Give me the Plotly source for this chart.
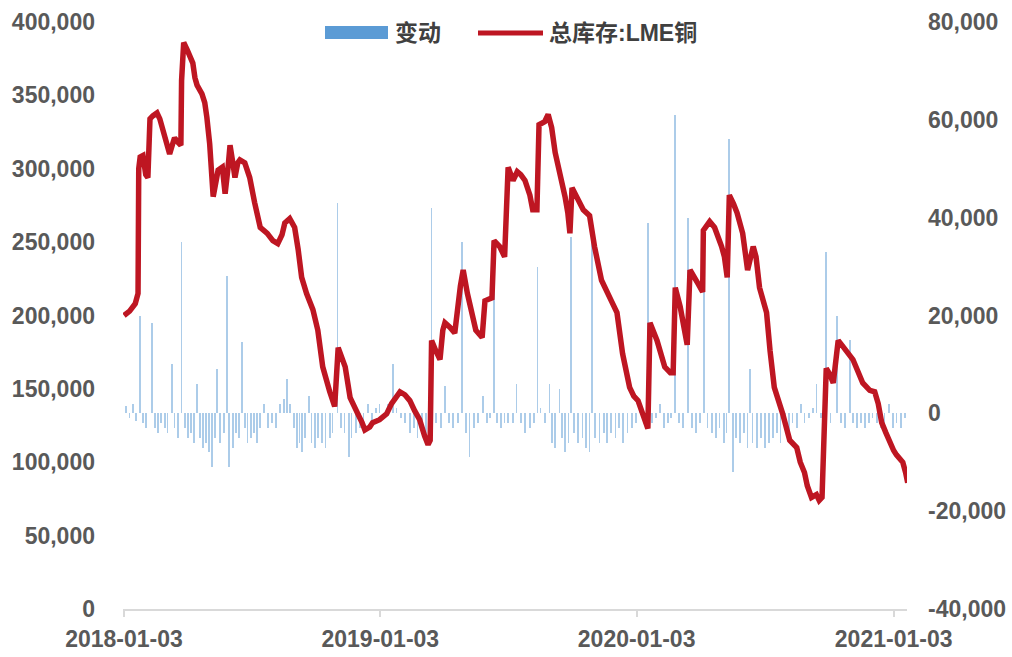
import plotly.graph_objects as go

# ---------------- data ----------------
stock_dates = [
    "2018-01-03","2018-01-11","2018-01-19","2018-01-23","2018-01-24","2018-01-26","2018-01-30",
    "2018-02-03","2018-02-06","2018-02-09","2018-02-13","2018-02-19","2018-02-23","2018-02-27",
    "2018-03-05","2018-03-09","2018-03-14","2018-03-16","2018-03-21","2018-03-25","2018-03-26","2018-03-29",
    "2018-04-03","2018-04-07","2018-04-11","2018-04-14","2018-04-17","2018-04-24","2018-04-28",
    "2018-05-01","2018-05-05","2018-05-10","2018-05-14","2018-05-17","2018-05-23","2018-05-27","2018-05-31",
    "2018-06-03","2018-06-07","2018-06-10","2018-06-14","2018-06-17","2018-06-24",
    "2018-07-01","2018-07-08","2018-07-16","2018-07-21","2018-07-26",
    "2018-08-03","2018-08-10","2018-08-16","2018-08-20","2018-08-27",
    "2018-09-03","2018-09-08","2018-09-13","2018-09-20","2018-09-29",
    "2018-10-06","2018-10-13","2018-10-23","2018-10-30",
    "2018-11-04","2018-11-09","2018-11-14","2018-11-21","2018-11-26",
    "2018-12-02","2018-12-08","2018-12-12","2018-12-19","2018-12-23",
    "2019-01-02","2019-01-12","2019-01-19","2019-01-24","2019-01-31",
    "2019-02-07","2019-02-14","2019-02-21","2019-02-28",
    "2019-03-07","2019-03-12","2019-03-15","2019-03-17","2019-03-23","2019-03-29",
    "2019-04-02","2019-04-05","2019-04-12","2019-04-19","2019-04-27",
    "2019-05-01","2019-05-07","2019-05-11","2019-05-19","2019-05-28",
    "2019-06-01","2019-06-11","2019-06-14","2019-06-22","2019-06-29",
    "2019-07-04","2019-07-11","2019-07-17","2019-07-22","2019-07-28",
    "2019-08-04","2019-08-08","2019-08-14","2019-08-17","2019-08-25","2019-08-30",
    "2019-09-04","2019-09-09","2019-09-16","2019-09-23","2019-09-27","2019-09-30",
    "2019-10-03","2019-10-10","2019-10-19","2019-10-28",
    "2019-11-04","2019-11-14","2019-11-22","2019-11-28",
    "2019-12-06","2019-12-14","2019-12-24","2019-12-30",
    "2020-01-05","2020-01-15","2020-01-19","2020-01-22",
    "2020-02-01","2020-02-12","2020-02-20","2020-02-24","2020-02-27",
    "2020-03-05","2020-03-10","2020-03-15","2020-03-19","2020-03-26","2020-03-30",
    "2020-04-06","2020-04-07","2020-04-16","2020-04-23",
    "2020-05-03","2020-05-07","2020-05-11","2020-05-14","2020-05-20","2020-05-25",
    "2020-06-02","2020-06-09","2020-06-17","2020-06-21","2020-06-26",
    "2020-07-06","2020-07-11","2020-07-17","2020-07-29",
    "2020-08-08","2020-08-18","2020-08-23","2020-08-29",
    "2020-09-02","2020-09-08","2020-09-15","2020-09-19","2020-09-23","2020-09-29",
    "2020-10-04","2020-10-09","2020-10-16","2020-10-21","2020-10-28",
    "2020-11-06","2020-11-13","2020-11-20","2020-11-30",
    "2020-12-07","2020-12-12","2020-12-17","2020-12-23","2020-12-29",
    "2021-01-03","2021-01-07","2021-01-16","2021-01-20","2021-01-23",
]
stock_values = [
    200000,203000,208000,215000,300000,308000,309000,
    296000,294000,334000,336000,338000,334000,328000,
    318000,310000,318000,321000,318000,316000,360000,386000,
    381000,376000,372000,362000,357000,351000,345000,
    335000,317000,281000,293000,299000,301000,283000,300000,
    316000,304000,294000,304000,306000,304000,
    294000,277000,260000,258000,256000,
    251000,249000,255000,263000,266000,
    260000,245000,226000,215000,204000,
    190000,165000,148000,138000,
    178000,172000,165000,144000,138000,
    133000,127000,122000,124000,127000,
    129000,133000,140000,144000,148000,
    146000,142000,135000,129000,
    118000,112000,115000,183000,176000,170000,
    190000,195000,192000,188000,220000,
    231000,215000,206000,190000,185000,
    210000,212000,251000,247000,240000,
    301000,292000,298000,296000,292000,
    282000,272000,272000,330000,332000,337000,
    328000,311000,297000,281000,270000,256000,
    287000,281000,272000,268000,
    247000,224000,215000,210000,
    202000,174000,151000,145000,
    142000,127000,123000,195000,
    183000,165000,161000,161000,219000,
    206000,194000,180000,231000,226000,222000,
    216000,258000,264000,260000,
    247000,240000,226000,282000,276000,270000,
    256000,231000,247000,240000,219000,
    202000,176000,151000,133000,
    115000,110000,100000,93000,
    84000,76000,78000,74000,76000,164000,
    160000,154000,183000,180000,176000,
    170000,162000,154000,149000,
    148000,140000,127000,120000,113000,
    108000,105000,100000,93000,86000,
]

change_dates = [
    "2018-01-06","2018-01-11","2018-01-16","2018-01-20","2018-01-26","2018-01-30","2018-02-03","2018-02-12",
    "2018-02-16","2018-02-20","2018-02-25","2018-03-02","2018-03-06","2018-03-12","2018-03-16","2018-03-21",
    "2018-03-26","2018-03-31","2018-04-04","2018-04-08","2018-04-13","2018-04-17","2018-04-21","2018-04-26",
    "2018-04-30","2018-05-04","2018-05-08","2018-05-13","2018-05-15","2018-05-20","2018-05-25","2018-05-30",
    "2018-06-01","2018-06-07","2018-06-11","2018-06-16","2018-06-20","2018-06-24","2018-06-28","2018-07-03",
    "2018-07-07","2018-07-11","2018-07-16","2018-07-21","2018-07-27","2018-08-02","2018-08-07","2018-08-13",
    "2018-08-19","2018-08-23","2018-08-27","2018-09-02","2018-09-06","2018-09-10","2018-09-14","2018-09-18",
    "2018-09-23","2018-09-27","2018-10-02","2018-10-06","2018-10-12","2018-10-17","2018-10-23","2018-10-27",
    "2018-11-03","2018-11-08","2018-11-13","2018-11-19","2018-11-23","2018-11-29","2018-12-05","2018-12-10",
    "2018-12-16","2018-12-22","2018-12-28","2019-01-02","2019-01-08","2019-01-14","2019-01-21","2019-01-26",
    "2019-02-01","2019-02-07","2019-02-14","2019-02-20","2019-02-25","2019-03-03","2019-03-09","2019-03-13",
    "2019-03-17","2019-03-23","2019-03-30","2019-04-05","2019-04-11","2019-04-16","2019-04-24","2019-04-29",
    "2019-05-05","2019-05-10","2019-05-16","2019-05-22","2019-05-29","2019-06-04","2019-06-08","2019-06-14",
    "2019-06-18","2019-06-24","2019-06-29","2019-07-04","2019-07-11","2019-07-16","2019-07-22","2019-07-28",
    "2019-08-04","2019-08-10","2019-08-15","2019-08-19","2019-08-25","2019-09-01","2019-09-05","2019-09-09",
    "2019-09-15","2019-09-19","2019-09-23","2019-09-28","2019-10-02","2019-10-06","2019-10-12","2019-10-18",
    "2019-10-23","2019-10-28","2019-10-31","2019-11-05","2019-11-11","2019-11-17","2019-11-22","2019-11-28",
    "2019-12-04","2019-12-09","2019-12-15","2019-12-21","2019-12-27","2020-01-02","2020-01-08","2020-01-13",
    "2020-01-19","2020-01-25","2020-01-31","2020-02-05","2020-02-11","2020-02-17","2020-02-21","2020-02-27",
    "2020-03-03","2020-03-09","2020-03-16","2020-03-22","2020-03-27","2020-04-02","2020-04-08","2020-04-13",
    "2020-04-19","2020-04-25","2020-04-30","2020-05-06","2020-05-10","2020-05-14","2020-05-19","2020-05-23",
    "2020-05-29","2020-06-04","2020-06-09","2020-06-12","2020-06-16","2020-06-22","2020-06-28","2020-07-04",
    "2020-07-09","2020-07-15","2020-07-21","2020-07-26","2020-08-01","2020-08-07","2020-08-12","2020-08-18",
    "2020-08-24","2020-08-29","2020-09-04","2020-09-10","2020-09-15","2020-09-21","2020-09-29","2020-10-05",
    "2020-10-14","2020-10-20","2020-10-26","2020-11-02","2020-11-06","2020-11-12","2020-11-17","2020-11-23",
    "2020-11-29","2020-12-04","2020-12-10","2020-12-16","2020-12-21","2020-12-27","2021-01-02","2021-01-07",
    "2021-01-13","2021-01-19",
]
change_values = [
    1500,-1000,2000,-1500,20000,-2000,-3000,18500,
    -3000,-4000,-2000,-3000,-4000,10000,-3000,-5000,
    35000,-3000,-5000,-4000,-6000,6000,-5000,-7000,
    -6000,-8000,-11000,-5000,9000,-6000,-4000,28000,
    -11000,-7000,-4000,-5000,14500,-3000,-6000,-5000,
    -4000,-6000,-3000,2000,-3000,-2000,-3000,2000,
    3000,7000,2000,-3000,-7000,-6000,-8000,-5000,
    3500,-6000,-7000,-5000,-6000,-7000,-5000,-4000,
    43000,-3000,-4000,-9000,-5000,-4000,-3000,-4000,
    2000,-2000,1000,2000,-1000,2000,10000,1000,
    -1000,-2000,-4000,-3000,-5000,-4000,-6000,-3000,
    42000,-2000,-3000,5500,-2000,-3000,-2000,35000,
    -4000,-9000,-3000,-2000,3500,-2000,-1000,34000,
    -2000,-3000,-2000,-2000,-2000,6000,-2000,-4000,
    -3000,-2000,30000,1000,-2000,6000,-6000,-7000,
    5000,-5000,-8000,-6000,36000,-4000,-6000,-5000,
    -7000,-8000,38000,-5000,-6000,-4000,-6000,-4000,
    -5000,-3000,-6000,-4000,-3000,-2000,1000,-2000,
    39000,-2000,-1000,2000,-3000,-2000,-1000,61000,
    -2000,-3000,40000,-3000,-4000,-2000,30000,-3000,
    -4000,-5000,-3000,-6000,-4000,56000,-12000,-5000,
    -6000,-4000,-7000,9000,-6000,-7000,-5000,-7000,
    -6000,-5000,-4000,-6000,-3000,-4000,-2000,-3000,
    2000,-2000,-1000,1000,6000,-1000,33000,-2000,
    20000,-2000,-3000,15000,-2000,-3000,-2000,-3000,
    -2000,-1000,-2000,-3000,-2000,2000,-3000,-2000,
    -3000,-1000,
]

left_ticks = [0, 50000, 100000, 150000, 200000, 250000, 300000, 350000, 400000]
left_labels = ["0", "50,000", "100,000", "150,000", "200,000", "250,000", "300,000", "350,000", "400,000"]
right_ticks = [-40000, -20000, 0, 20000, 40000, 60000, 80000]
right_labels = ["-40,000", "-20,000", "0", "20,000", "40,000", "60,000", "80,000"]
x_ticks = ["2018-01-03", "2019-01-03", "2020-01-03", "2021-01-03"]
x_labels = ["2018-01-03", "2019-01-03", "2020-01-03", "2021-01-03"]
series_names = ["变动", "总库存:LME铜"]

# ---------------- figure ----------------
W, H = 1012, 657
L, R, T, B = 123, 907, 22, 609  # plot area in px

BAR_COLOR = "#5B9BD5"
LINE_COLOR = "#BE1622"
TXT = "#595959"
FONT = "Liberation Sans, Noto Sans CJK SC, sans-serif"

fig = go.Figure()
fig.add_trace(go.Bar(
    x=change_dates, y=change_values, name=series_names[0],
    marker=dict(color=BAR_COLOR, line=dict(width=0)), opacity=0.5,
    width=1.1 * 86400000, yaxis="y", showlegend=False,
))
fig.add_trace(go.Scatter(
    x=stock_dates, y=stock_values, name=series_names[1], mode="lines",
    line=dict(color=LINE_COLOR, width=5.5), yaxis="y2", showlegend=False,
))

tickfont = dict(family=FONT, size=23, color=TXT, weight="bold")

fig.update_layout(
    width=W, height=H,
    margin=dict(l=L, r=W - R, t=T, b=H - B, pad=0, autoexpand=False),
    paper_bgcolor="white", plot_bgcolor="white",
    bargap=0,
    xaxis=dict(
        type="date", range=["2018-01-01 14:00", "2021-01-22"],
        tickvals=x_ticks, ticktext=x_labels, tickfont=tickfont,
        showgrid=False, zeroline=False, automargin=False,
        showline=True, linecolor="#D9D9D9", linewidth=1.5,
        ticks="outside", ticklen=6, tickcolor="#D9D9D9", tickwidth=1.5,
        ticklabelstandoff=3,
    ),
    yaxis=dict(
        range=[-40000, 80000], side="right", automargin=False,
        tickvals=right_ticks, ticktext=right_labels, tickfont=tickfont,
        showgrid=False, zeroline=False, showline=False, ticks="",
        ticklabelstandoff=20,
    ),
    yaxis2=dict(
        range=[0, 400000], side="left", overlaying="y", automargin=False,
        tickvals=left_ticks, ticktext=left_labels, tickfont=tickfont,
        showgrid=False, zeroline=False, showline=False, ticks="",
        ticklabelstandoff=27,
    ),
)

# manual legend (top centre, like the source chart)
def px_x(p):
    return (p - L) / (R - L)

def px_y(p):
    return (B - p) / (B - T)

fig.add_shape(type="rect", xref="paper", yref="paper",
              x0=px_x(325), x1=px_x(388), y0=px_y(39), y1=px_y(26),
              fillcolor=BAR_COLOR, line=dict(width=0))
fig.add_shape(type="line", xref="paper", yref="paper",
              x0=px_x(478), x1=px_x(543), y0=px_y(33), y1=px_y(33),
              line=dict(color=LINE_COLOR, width=5))
legend_font = dict(family=FONT, size=23, color="#404040")
fig.add_annotation(text="<b>%s</b>" % series_names[0], xref="paper", yref="paper",
                   x=px_x(393), y=px_y(33), xanchor="left", yanchor="middle",
                   showarrow=False, font=legend_font)
fig.add_annotation(text="<b>%s</b>" % series_names[1], xref="paper", yref="paper",
                   x=px_x(547), y=px_y(33), xanchor="left", yanchor="middle",
                   showarrow=False, font=legend_font)

fig.write_html("out.html")
